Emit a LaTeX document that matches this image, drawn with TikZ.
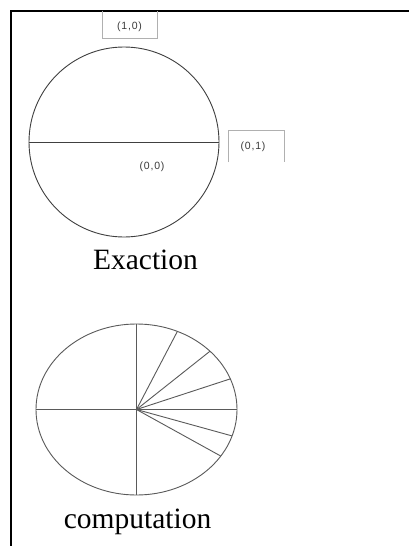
\documentclass[tikz,border=0pt]{standalone}
\usepackage{fontspec}
\setmainfont{Liberation Serif}
\newfontfamily\lblfont[LetterSpace=8]{Liberation Sans}
\usetikzlibrary{shapes.geometric,calc}
\definecolor{lblgray}{HTML}{3A3A3A}
\definecolor{boxgray}{HTML}{B0B0B0}
\definecolor{linegray}{HTML}{5A5A5A}
\tikzset{
  frameline/.style={line width=2pt, black},
  lblbox/.style={draw=boxgray, line width=0.8pt},
  coordlbl/.style={text=lblgray, font=\lblfont\fontsize{10.5}{12}\selectfont, inner sep=0pt},
  caption/.style={font=\fontsize{29.5}{34}\selectfont, inner sep=0pt, anchor=base},
  thinline/.style={draw=linegray, line width=0.9pt},
}
\begin{document}
\begin{tikzpicture}[x=1pt,y=-1pt]
\useasboundingbox[fill=white] (0,0) rectangle (409,546);
% frame
\coordinate (fbl) at (10.5,546);
\coordinate (ftl) at (10.5,10.5);
\coordinate (ftr) at (409,10.5);
\draw[frameline] (fbl) -- (ftl) -- (ftr);
% top circle
\node[circle, draw=black!75, line width=0.9pt, minimum size=190pt, inner sep=0pt] (circ) at (124,142) {};
\draw[thinline, draw=black!75] (circ.west) -- (circ.east);
% label boxes
\coordinate (b1a) at (102,10.5);
\coordinate (b1b) at (102,38);
\coordinate (b1c) at (157,38);
\coordinate (b1d) at (157,10.5);
\draw[lblbox] (b1a) -- (b1b) -- (b1c) -- (b1d);
\node[coordlbl] (l10) at (129.5,27) {(1,0)};
\coordinate (b2a) at (228,162);
\coordinate (b2b) at (228,130);
\coordinate (b2c) at (284,130);
\coordinate (b2d) at (284,162);
\draw[lblbox] (b2a) -- (b2b) -- (b2c) -- (b2d);
\node[coordlbl] (l01) at (253,147) {(0,1)};
\node[coordlbl] (l00) at (152,167) {(0,0)};
\node[caption] (exaction) at (145.5,269) {Exaction};
% bottom ellipse
\node[ellipse, thinline, minimum width=201pt, minimum height=171pt, inner sep=0pt] (ell) at (136.5,409.5) {};
\draw[thinline] (ell.north) -- (ell.south);
\draw[thinline] (ell.west) -- (ell.east);
\foreach \a in {66,43,21,-18,-33} {
  \draw[thinline] (ell.center) -- ++(-\a:100.5 and 85.5);
}
\node[caption] (comp) at (137.5,528) {computation};
\end{tikzpicture}
\end{document}
